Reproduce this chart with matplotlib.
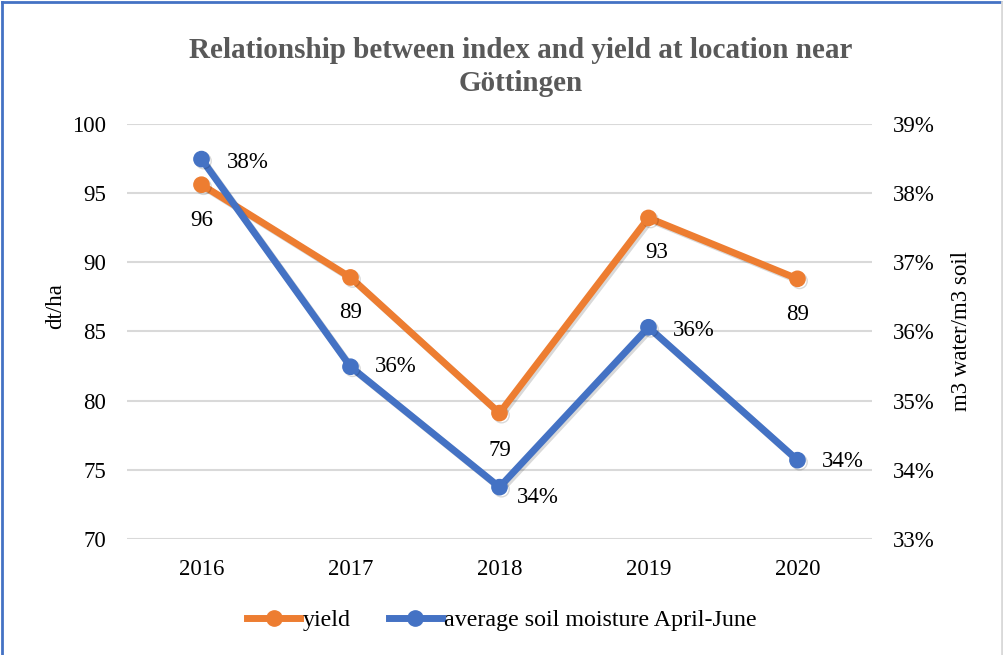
import matplotlib.pyplot as plt
import matplotlib.ticker as mticker
import matplotlib.patheffects as pe
from matplotlib.lines import Line2D

plt.rcParams['font.family'] = ['Liberation Serif', 'DejaVu Serif']

# Daten
years = ["2016", "2017", "2018", "2019", "2020"]
yield_dt = [95.6, 88.9, 79.1, 93.2, 88.8]
moisture = [0.3849, 0.3549, 0.3375, 0.3606, 0.3414]
yield_labels = ["96", "89", "79", "93", "89"]
moisture_labels = ["38%", "36%", "34%", "36%", "34%"]

orange = "#ED7D31"
blue = "#4472C4"

fig = plt.figure(figsize=(10.04, 6.55), dpi=100)
ax = fig.add_axes([0.1265, 0.177, 0.742, 0.634])
ax2 = ax.twinx()

x = range(len(years))

# Gitterlinien
ax.set_ylim(70, 100)
ax.set_yticks(range(70, 101, 5))
ax.grid(axis="y", color="#D9D9D9", linewidth=1.5)
ax.set_axisbelow(True)
ax.set_xlim(-0.5, 4.5)
ax.set_xticks(list(x))
ax.set_xticklabels(years)

ax2.set_ylim(0.33, 0.39)
ax2.set_yticks([0.33, 0.34, 0.35, 0.36, 0.37, 0.38, 0.39])
ax2.yaxis.set_major_formatter(mticker.PercentFormatter(1.0, decimals=0))

for a in (ax, ax2):
    for s in a.spines.values():
        s.set_visible(False)
    a.tick_params(length=0, labelsize=16.5, colors="black")
ax.tick_params(axis="y", pad=15)
ax.tick_params(axis="x", pad=14)
ax2.tick_params(axis="y", pad=15)

ax.set_ylabel("dt/ha", fontsize=16.5)
ax.yaxis.set_label_coords(-0.082, 0.56)
ax2.set_ylabel("m3 water/m3 soil", fontsize=16.5)
ax2.yaxis.set_label_coords(1.106, 0.5)

shadow = [pe.SimpleLineShadow(offset=(1.5, -1.5), alpha=0.15, shadow_color="black"),
          pe.Normal()]
ax.plot(x, yield_dt, color=orange, linewidth=5, marker="o", markersize=11,
        solid_capstyle="round", zorder=3, path_effects=shadow)
ax2.plot(x, moisture, color=blue, linewidth=5, marker="o", markersize=11,
         solid_capstyle="round", zorder=4, path_effects=shadow)
ax2.set_zorder(ax.get_zorder() + 1)
ax2.patch.set_visible(False)

# Beschriftungen
y_off = [(0, -36), (0, -35), (0, -37), (8, -35), (0, -36)]
for i, (v, t) in enumerate(zip(yield_dt, yield_labels)):
    ax.annotate(t, (i, v), xytext=y_off[i], textcoords="offset pixels",
                ha="center", va="center", fontsize=16.5)
m_off = [(25, -3), (24, 0), (17, -10), (24, -3), (24, -1)]
for i, (v, t) in enumerate(zip(moisture, moisture_labels)):
    ax2.annotate(t, (i, v), xytext=m_off[i], textcoords="offset pixels",
                 ha="left", va="center", fontsize=16.5)

fig.suptitle("Relationship between index and yield at location near\nGöttingen",
             x=0.5185, y=0.944, fontsize=21, fontweight="bold", color="#595959",
             linespacing=1.3)

handles = [Line2D([], [], color=orange, linewidth=5, marker="o", markersize=11),
           Line2D([], [], color=blue, linewidth=5, marker="o", markersize=11)]
fig.legend(handles, ["yield", "average soil moisture April-June"],
           loc="center", bbox_to_anchor=(0.5, 0.053), ncol=2, frameon=False,
           fontsize=17.3, handlelength=2.2, handletextpad=0.1, columnspacing=1.6)

# Rahmen
fig.add_artist(Line2D([0.002, 0.002], [0, 0.997], color=blue, linewidth=2,
                      transform=fig.transFigure))
fig.add_artist(Line2D([0.002, 0.998], [0.997, 0.997], color=blue, linewidth=2,
                      transform=fig.transFigure))
fig.add_artist(Line2D([0.998, 0.998], [0, 0.997], color="#D9D9D9", linewidth=2,
                      transform=fig.transFigure))

plt.savefig("out.png", dpi=100)
